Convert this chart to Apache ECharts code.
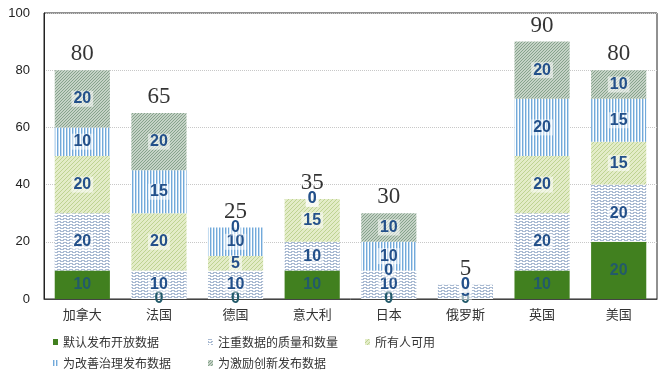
<!DOCTYPE html>
<html><head><meta charset="utf-8">
<script src="https://cdn.jsdelivr.net/npm/echarts@6/dist/echarts.min.js"></script>
<style>html,body{margin:0;padding:0;background:#fff}#c{width:664px;height:379px}</style>
</head><body><div id="c"></div>
<script>
var categories = ['加拿大','法国','德国','意大利','日本','俄罗斯','英国','美国'];
var seriesNames = ['默认发布开放数据','注重数据的质量和数量','所有人可用','为改善治理发布数据','为激励创新发布数据'];
var sDefault   = [10, 0, 0, 10, 0, 0, 10, 20];
var sQuality   = [20, 10, 10, 10, 10, 5, 20, 20];
var sEveryone  = [20, 20, 5, 15, 0, 0, 20, 15];
var sGovern    = [10, 15, 10, 0, 10, 0, 20, 15];
var sInnovate  = [20, 20, 0, 0, 10, 0, 20, 10];
var yTicks = [0, 20, 40, 60, 80, 100];

function pattern(w, h, bg, draw) {
  var c = document.createElement('canvas'); c.width = w; c.height = h;
  var g = c.getContext('2d'); g.fillStyle = bg; g.fillRect(0, 0, w, h); draw(g);
  return { image: c, repeat: 'repeat' };
}
var pQuality = pattern(6, 3, '#ffffff', function (g) {
  g.fillStyle = '#a9bad2'; g.fillRect(0, 0, 4, 1); g.fillRect(3, 2, 3, 1); g.fillRect(0, 2, 1, 1);
});
var pEveryone = pattern(4, 4, '#e3ecc8', function (g) {
  g.fillStyle = '#bed392';
  for (var i = 0; i < 4; i++) g.fillRect(i, 3 - i, 1, 1);
});
var pGovern = pattern(3, 4, '#ffffff', function (g) {
  g.fillStyle = '#72a9da'; g.fillRect(0, 0, 1, 4); g.fillStyle = '#c4dcf0'; g.fillRect(1, 0, 1, 4);
});
var pInnovate = pattern(3, 3, '#c5d2c6', function (g) {
  g.fillStyle = '#86a38c';
  for (var i = 0; i < 3; i++) g.fillRect(i, 2 - i, 1, 1);
});
var fills = ['#41801f', pQuality, pEveryone, pGovern, pInnovate];
var datas = [sDefault, sQuality, sEveryone, sGovern, sInnovate];

var totals = categories.map(function (_, i) {
  return datas.reduce(function (s, d) { return s + d[i]; }, 0);
});

var series = datas.map(function (d, k) {
  return {
    name: seriesNames[k], type: 'bar', stack: 'all', data: d, barWidth: '72%',
    itemStyle: { color: fills[k] },
    label: {
      show: true, position: 'inside', color: k === 0 ? '#235a6a' : '#23508a', fontWeight: 'bold',
      fontFamily: 'Liberation Sans, Arial', fontSize: 16,
      backgroundColor: k === 0 ? 'transparent' : 'rgba(255,255,255,0.55)',
      padding: [0, 2]
    }
  };
});
series.push({
  name: 'total', type: 'scatter', symbolSize: 1, itemStyle: { color: 'rgba(0,0,0,0)' },
  data: totals, z: 10,
  label: { show: true, position: 'top', distance: 4, color: '#000',
    fontFamily: 'Liberation Serif, Times New Roman', fontSize: 23 }
});

var legendPos = [[53, 336], [208, 336], [365, 336], [53, 357], [208, 357]];
var legends = seriesNames.map(function (n, k) {
  return { data: [n], left: legendPos[k][0], top: legendPos[k][1], padding: 0,
    icon: 'rect', itemWidth: 5, itemHeight: 6, itemGap: 0,
    textStyle: { color: '#333', fontSize: 12, fontFamily: 'Noto Sans CJK SC' } };
});

var chart = echarts.init(document.getElementById('c'));
chart.setOption({
  animation: false,
  grid: { left: 44, right: 7, top: 13, bottom: 80, show: true, borderColor: '#222', borderWidth: 1 },
  legend: legends,
  xAxis: {
    type: 'category', data: categories,
    axisLine: { lineStyle: { color: '#444' } }, axisTick: { show: false },
    axisLabel: { color: '#333', fontSize: 13, margin: 9, fontFamily: 'Noto Sans CJK SC' }
  },
  yAxis: {
    type: 'value', min: yTicks[0], max: yTicks[yTicks.length - 1], interval: 20,
    axisLine: { show: true, lineStyle: { color: '#222' } },
    axisLabel: { color: '#222', fontSize: 13, margin: 14, fontFamily: 'Liberation Sans, Arial' },
    splitLine: { lineStyle: { color: '#c8c8c8', type: 'dotted' } }
  },
  series: series
});
</script></body></html>
